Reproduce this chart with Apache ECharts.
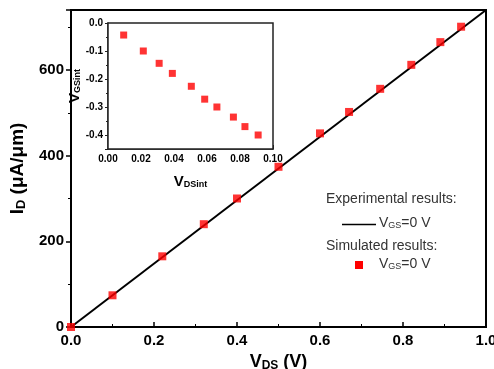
<!DOCTYPE html>
<html>
<head>
<meta charset="utf-8">
<script src="https://cdn.jsdelivr.net/npm/echarts@6/dist/echarts.min.js"></script>
<style>
  html, body { margin: 0; padding: 0; background: #fff; }
  #chart { width: 494px; height: 369px; }
</style>
</head>
<body>
<div id="chart"></div>
<script>
// main plot: experimental line and simulated points
const expLine = [[0, 0], [1.0, 740]];
const simVds = [0, 0.10, 0.22, 0.32, 0.40, 0.50, 0.60, 0.67, 0.745, 0.82, 0.89, 0.94];
const simId = [0, 74, 165, 240, 300, 374, 452, 502, 556, 612, 665, 701];

// inset: internal gate-source vs drain-source voltage
const insetVds = [0.0095, 0.0214, 0.031, 0.039, 0.0505, 0.0586, 0.066, 0.076, 0.083, 0.091];
const insetVgs = [-0.043, -0.10, -0.144, -0.18, -0.226, -0.272, -0.30, -0.336, -0.37, -0.40];

const font = "Liberation Sans, Arial, sans-serif";
const chart = echarts.init(document.getElementById("chart"));

const sub = (big, small, shift) => ({
  b: { fontSize: big, fontWeight: "bold", color: "#000", fontFamily: font },
  s: { fontSize: small, fontWeight: "bold", color: "#000", fontFamily: font, verticalAlign: "bottom", padding: [shift, 0, 0, 0] }
});

chart.setOption({
  animation: false,
  textStyle: { fontFamily: font },
  grid: [
    { left: 71, top: 10, width: 415, height: 317, outerBoundsMode: "none", containLabel: false, show: true, borderColor: "#000", borderWidth: 2, backgroundColor: "transparent" },
    { left: 108, top: 23, width: 165, height: 126, outerBoundsMode: "none", containLabel: false, show: true, borderColor: "#222", borderWidth: 1.5, backgroundColor: "#fff", z: 5 }
  ],
  xAxis: [
    {
      gridIndex: 0, type: "value", min: 0, max: 1.0, interval: 0.2,
      axisLine: { lineStyle: { color: "#000", width: 2 } },
      axisTick: { inside: true, length: 5, lineStyle: { color: "#000", width: 1.5 } },
      minorTick: { show: true, splitNumber: 2, length: 3, lineStyle: { color: "#000" } },
      splitLine: { show: false },
      axisLabel: { color: "#000", fontWeight: "bold", fontSize: 15, margin: 6, formatter: (v) => v.toFixed(1) },
      name: "{b|V}{s|DS}{b| (V)}", nameLocation: "middle", nameGap: 22,
      nameTextStyle: { rich: sub(18, 12, 7) }
    },
    {
      gridIndex: 1, type: "value", min: 0, max: 0.1, interval: 0.02,
      axisLine: { onZero: false, lineStyle: { color: "#222", width: 1.5 } },
      axisTick: { inside: true, length: 4, lineStyle: { color: "#222" } },
      minorTick: { show: true, splitNumber: 2, length: 2, lineStyle: { color: "#222" } },
      splitLine: { show: false },
      axisLabel: { color: "#000", fontWeight: "bold", fontSize: 10, margin: 5, formatter: (v) => v.toFixed(2) },
      name: "{b|V}{s|DSint}", nameLocation: "middle", nameGap: 25,
      nameTextStyle: { rich: sub(15, 9, 6) }
    }
  ],
  yAxis: [
    {
      gridIndex: 0, type: "value", min: 0, max: 740, interval: 200,
      axisLine: { lineStyle: { color: "#000", width: 2 } },
      axisTick: { length: 5, lineStyle: { color: "#000", width: 1.5 } },
      minorTick: { show: true, splitNumber: 2, length: 3, lineStyle: { color: "#000" } },
      splitLine: { show: false },
      axisLabel: { color: "#000", fontWeight: "bold", fontSize: 15, margin: 7, showMaxLabel: false, verticalAlignMinLabel: "middle" },
      name: "{b|I}{s|D}{b| (μA/μm)}", nameLocation: "middle", nameRotate: 90, nameGap: 32,
      nameTextStyle: { rich: sub(19, 13, 7) }
    },
    {
      // inverted magnitude axis so ticks start at 0 and the range ends at -0.45
      gridIndex: 1, type: "value", min: 0, max: 0.45, interval: 0.1, inverse: true,
      axisLine: { onZero: false, lineStyle: { color: "#222", width: 1.5 } },
      axisTick: { length: 3, lineStyle: { color: "#222" } },
      minorTick: { show: true, splitNumber: 2, length: 2, lineStyle: { color: "#222" } },
      splitLine: { show: false },
      axisLabel: { color: "#000", fontWeight: "bold", fontSize: 10, margin: 5, showMaxLabel: false, formatter: (v) => (v < 1e-9 ? "0.0" : (-v).toFixed(1)) },
      name: "{b|V}{s|GSint}", nameLocation: "middle", nameRotate: 90, nameGap: 23,
      nameTextStyle: { rich: sub(15, 9, 6) }
    }
  ],
  series: [
    {
      type: "line", xAxisIndex: 0, yAxisIndex: 0, data: expLine,
      symbol: "none", lineStyle: { color: "#000", width: 2 }, z: 2
    },
    {
      type: "scatter", xAxisIndex: 0, yAxisIndex: 0,
      data: simVds.map((x, i) => [x, simId[i]]),
      symbol: "rect", symbolSize: 8, itemStyle: { color: "#ff0000" }, z: 3
    },
    {
      type: "scatter", xAxisIndex: 1, yAxisIndex: 1,
      data: insetVds.map((x, i) => [x, -insetVgs[i]]),
      symbol: "rect", symbolSize: 7, itemStyle: { color: "#ff0000" }, z: 6
    }
  ],
  graphic: [
    { type: "text", left: 326, top: 192, style: { text: "Experimental results:", font: "14px " + font, fill: "#333" } },
    { type: "line", shape: { x1: 342, y1: 224.5, x2: 376, y2: 224.5 }, style: { stroke: "#000", lineWidth: 1.5 } },
    { type: "text", left: 379, top: 216, style: { text: "{b|V}{s|GS}{b|=0 V}", rich: { b: { font: "14px " + font, fill: "#333" }, s: { font: "9px " + font, fill: "#333", verticalAlign: "bottom", padding: [6, 0, 0, 0] } } } },
    { type: "text", left: 326, top: 239, style: { text: "Simulated results:", font: "14px " + font, fill: "#333" } },
    { type: "rect", shape: { x: 355, y: 261, width: 8, height: 8 }, style: { fill: "#ff0000" } },
    { type: "text", left: 379, top: 257, style: { text: "{b|V}{s|GS}{b|=0 V}", rich: { b: { font: "14px " + font, fill: "#333" }, s: { font: "9px " + font, fill: "#333", verticalAlign: "bottom", padding: [6, 0, 0, 0] } } } }
  ]
});
</script>
</body>
</html>
